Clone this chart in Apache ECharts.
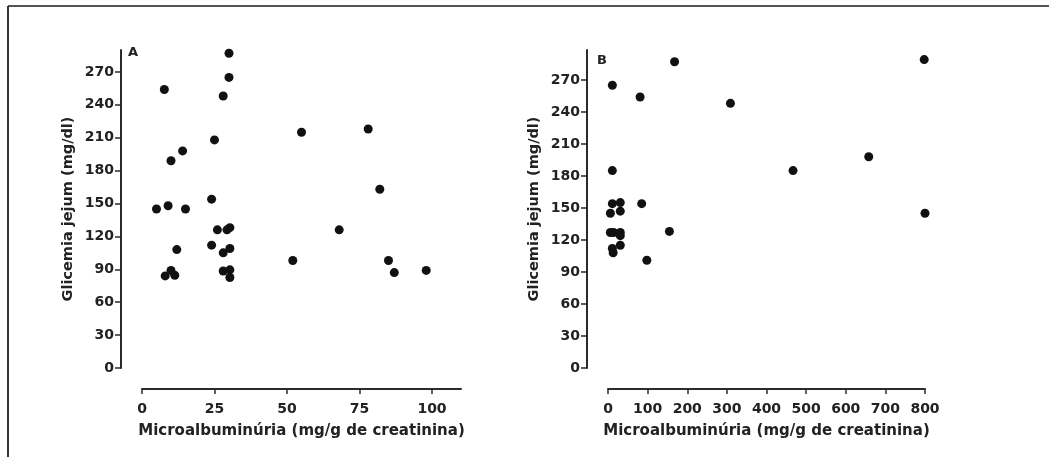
<!DOCTYPE html>
<html>
<head>
<meta charset="utf-8">
<script src="https://cdn.jsdelivr.net/npm/echarts@6/dist/echarts.min.js"></script>
<style>
  html, body { margin: 0; padding: 0; background: #fff; }
  #main { width: 1049px; height: 457px; }
</style>
</head>
<body>
<div id="main"></div>
<script>
// 数据: A 图 (微量白蛋白尿 0-110)
var pointsA = [
  [30, 287], [30, 265], [7.7, 254], [28, 248], [25, 208], [55, 215], [78, 218],
  [14, 198], [10, 189], [82, 163], [24, 154], [5, 145], [9, 148], [15, 145],
  [26, 126], [29.3, 126], [30.3, 128], [68, 126], [24, 112], [12, 108],
  [28, 105], [30.3, 109], [52, 98], [85, 98], [10, 89], [8, 84], [11.3, 84.5],
  [28, 88.5], [30.3, 89.5], [30.3, 82.5], [87, 87], [98, 89]
];
// 数据: B 图 (微量白蛋白尿 0-800)
var pointsB = [
  [168, 287], [798, 289], [11, 265], [81, 254], [309, 248], [11, 185],
  [467, 185], [658, 198], [800, 145], [85, 154], [155, 128], [98, 101],
  [6, 145], [11, 154], [31, 155], [31, 147], [6, 127], [14, 127], [31, 127],
  [31, 124], [11, 112], [13, 108], [31, 115]
];
var yTicks = [0, 30, 60, 90, 120, 150, 180, 210, 240, 270];
var xMaxA = 110, xMaxB = 800;
var yMaxA = 290, yMaxB = 298;

var myChart = echarts.init(document.getElementById('main'));

var axisColor = '#2b2b2b';
var labelFont = { fontFamily: 'DejaVu Sans', fontWeight: 'bold', fontSize: 14, color: '#222' };

function yAxisCfg(gridIndex, max) {
  return {
    type: 'value', gridIndex: gridIndex, min: 0, max: max, interval: 30,
    offset: 21,
    name: 'Glicemia jejum (mg/dl)', nameLocation: 'middle', nameGap: 45,
    nameTextStyle: { fontFamily: 'DejaVu Sans', fontWeight: 'bold', fontSize: 14.5, color: '#222' },
    axisLine: { show: true, onZero: false, lineStyle: { color: axisColor, width: 2 } },
    axisTick: { show: true, length: 6, lineStyle: { color: axisColor, width: 1.5 } },
    axisLabel: Object.assign({ margin: 7, showMaxLabel: false,
      formatter: function (v) { return yTicks.indexOf(v) >= 0 ? v : ''; } }, labelFont),
    splitLine: { show: false }
  };
}

function xAxisCfg(gridIndex, max, interval) {
  return {
    type: 'value', gridIndex: gridIndex, min: 0, max: max, interval: interval,
    offset: 21,
    name: 'Microalbuminúria (mg/g de creatinina)', nameLocation: 'middle', nameGap: 35,
    nameTextStyle: { fontFamily: 'DejaVu Sans', fontWeight: 'bold', fontSize: 15, color: '#222' },
    axisLine: { show: true, onZero: false, lineStyle: { color: axisColor, width: 2 } },
    axisTick: { show: true, length: 5, lineStyle: { color: axisColor, width: 1.5 } },
    axisLabel: Object.assign({ margin: 13, showMaxLabel: max % interval === 0 }, labelFont),
    splitLine: { show: false }
  };
}

var option = {
  backgroundColor: '#fff',
  animation: false,
  grid: [
    { left: 142, top: 50, width: 319, height: 318 },
    { left: 608, top: 50, width: 317, height: 318 }
  ],
  xAxis: [xAxisCfg(0, xMaxA, 25), xAxisCfg(1, xMaxB, 100)],
  yAxis: [yAxisCfg(0, yMaxA), yAxisCfg(1, yMaxB)],
  graphic: [
    // 外框 (上边和左边)
    { type: 'line', shape: { x1: 8, y1: 6, x2: 1049, y2: 6 }, style: { stroke: '#555', lineWidth: 2 } },
    { type: 'line', shape: { x1: 8, y1: 6, x2: 8, y2: 457 }, style: { stroke: '#333', lineWidth: 2 } },
    { type: 'text', left: 128, top: 46, style: { text: 'A', font: 'bold 13px "DejaVu Sans"', fill: '#222' } },
    { type: 'text', left: 597, top: 54, style: { text: 'B', font: 'bold 13px "DejaVu Sans"', fill: '#222' } }
  ],
  series: [
    { type: 'scatter', xAxisIndex: 0, yAxisIndex: 0, data: pointsA, symbolSize: 9,
      itemStyle: { color: '#111', opacity: 1 } },
    { type: 'scatter', xAxisIndex: 1, yAxisIndex: 1, data: pointsB, symbolSize: 9,
      itemStyle: { color: '#111', opacity: 1 } }
  ]
};

myChart.setOption(option);
window.addEventListener('resize', function () {
  myChart.resize();
});
</script>
</body>
</html>
